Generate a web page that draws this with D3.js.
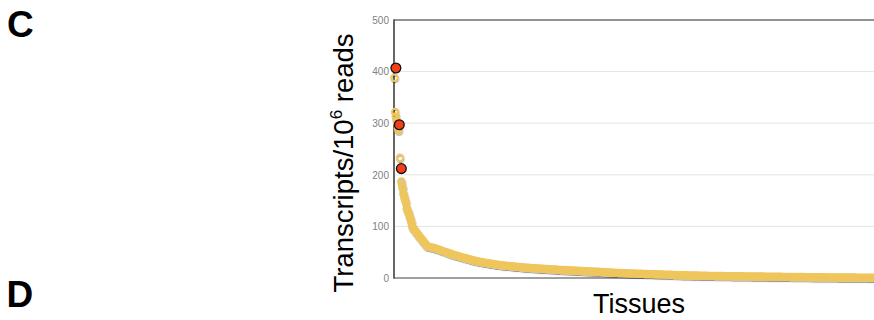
<!DOCTYPE html>
<html><head><meta charset="utf-8">
<script src="https://cdn.jsdelivr.net/npm/d3@7/dist/d3.min.js"></script>
<style>html,body{margin:0;padding:0;background:#fff;overflow:hidden}</style>
</head><body>
<svg id="chart" width="874" height="320"></svg>
<script>
// ---- data ----
const yTicks = [0, 100, 200, 300, 400, 500];
// tissues ranked by expression; head ranks listed explicitly
const headRanks = [1,2,3,4,5,6,7,9,11,12,13,14,15,16,17,18,19,20,21,22,23,24,25,26,27,28,29,30,31,32,33,34,35,36,37,38,39,40,41,42,43,44,45,46,47,48,49,50];
const headTpm = [388,322,313,306,300,290,286,233,187,180,174,164,159,154,150,145,135,131,128,125,120,116,112,107,100,97,95,93.5,92,90,88,86.5,84.5,83,81,79.5,78,76,74.5,73,71,69.5,68,66,64.5,63,61.5,61];
// remaining tissues, sampled every 3rd rank starting at rank 53
const tailStart = 53, tailStep = 3;
const tailTpm = [
 60,59,58,56.8,55.5,54.2,52.6,51.2,49.8,48.4,
 47,45.6,44.5,43.3,42.1,41,39.9,38.8,37.7,36.6,
 35.5,34.5,33.5,32.6,31.7,30.9,30.2,29.5,28.8,28.2,
 27.5,26.9,26.3,25.7,25.2,24.7,24.3,23.9,23.5,23.1,
 22.7,22.3,21.9,21.5,21.1,20.7,20.4,20.1,19.8,19.5,
 19.2,18.9,18.6,18.3,18.0,17.8,17.6,17.4,17.2,17.0,
 16.7,16.4,16.1,15.8,15.6,15.4,15.2,15.0,14.8,14.6,
 14.4,14.2,14.0,13.8,13.6,13.4,13.2,13.0,12.8,12.6,
 12.4,12.2,12.0,11.8,11.5,11.3,11.1,10.9,10.7,10.5,
 10.2,10.0,9.8,9.6,9.4,9.2,9.0,8.9,8.8,8.6,
 8.5,8.4,8.2,8.1,8.0,7.8,7.7,7.6,7.5,7.4,
 7.2,7.1,6.9,6.8,6.6,6.5,6.3,6.2,6.0,5.9,
 5.7,5.6,5.5,5.4,5.3,5.2,5.1,5.0,4.9,4.8,
 4.7,4.6,4.5,4.4,4.4,4.3,4.2,4.2,4.1,4.0,
 4.0,3.9,3.8,3.8,3.7,3.6,3.6,3.5,3.5,3.4,
 3.4,3.3,3.3,3.2,3.2,3.1,3.1,3.0,3.0,2.9,
 2.9,2.8,2.8,2.7,2.6,2.6,2.5,2.5,2.4,2.4,
 2.3,2.3,2.2,2.2,2.1,2.1,2.0,2.0,1.9,1.9,
 1.9,1.8,1.8,1.7,1.7,1.6,1.6,1.5,1.5,1.5,
 1.4,1.4,1.4,1.3,1.3,1.3,1.2,1.2,1.2,1.1,
 1.1,1.1,1.0,1.0,1.0,0.9,0.9,0.9,0.8,0.8,
 0.8,0.7,0.7,0.7,0.6,0.6,0.6,0.5,0.5,0.5
];
// highlighted tissues (red)
const redRanks = [3, 8, 11];
const redTpm = [407, 297, 212];

const panelLabels = ["C", "D"];
const yTitle = "Transcripts/10";
const ySup = "6";
const yTitleEnd = " reads";
const xTitle = "Tissues";

(function draw() {
  const points = headRanks.map((r, i) => ({rank: r, v: headTpm[i]}))
    .concat(tailTpm.map((v, i) => ({rank: tailStart + i * tailStep, v})));
  const reds = redRanks.map((r, i) => ({rank: r, v: redTpm[i]}));

  const svg = d3.select("#chart");
  const pL = 394, pT = 20, pB = 278, pR = 874;
  const x = d3.scaleLinear().domain([1, 710]).range([394.5, 880]);
  const y = d3.scaleLinear().domain([0, 500]).range([pB, pT]);

  const defs = svg.append("defs");
  const f = defs.append("filter").attr("id", "sh").attr("x", "-20%").attr("y", "-20%").attr("width", "140%").attr("height", "140%");
  f.append("feDropShadow").attr("dx", 0.4).attr("dy", 1.1).attr("stdDeviation", 0.7)
    .attr("flood-color", "#000").attr("flood-opacity", 0.4);

  // gridlines
  svg.append("g").selectAll("line").data(yTicks.filter(t => t > 0 && t < 500)).join("line")
    .attr("x1", pL).attr("x2", pR).attr("y1", d => y(d)).attr("y2", d => y(d))
    .attr("stroke", "#e4e4e4").attr("stroke-width", 1);

  // axis
  const yAxis = d3.axisLeft(y).tickValues(yTicks).tickSize(0).tickPadding(5);
  const ga = svg.append("g").attr("transform", `translate(${pL},0)`).call(yAxis);
  ga.select(".domain").remove();
  ga.selectAll("text").attr("font-family", "'Liberation Sans', Arial, sans-serif")
    .attr("font-size", 10).attr("fill", "#808080");

  // frame lines
  svg.append("line").attr("x1", pL).attr("x2", pR).attr("y1", y(500)).attr("y2", y(500))
    .attr("stroke", "#6e6e6e").attr("stroke-width", 1.6);
  svg.append("line").attr("x1", pL).attr("x2", pR).attr("y1", y(0)).attr("y2", y(0))
    .attr("stroke", "#808080").attr("stroke-width", 1.5);
  svg.append("line").attr("x1", pL).attr("x2", pL).attr("y1", y(500) - 0.8).attr("y2", y(0) + 0.8)
    .attr("stroke", "#666").attr("stroke-width", 2);

  // hollow points
  svg.append("g").attr("filter", "url(#sh)").selectAll("circle").data(points).join("circle")
    .attr("cx", d => x(d.rank)).attr("cy", d => y(d.v)).attr("r", 3.2)
    .attr("fill", "none").attr("stroke", "#efc65c").attr("stroke-width", 2);

  // red points
  svg.append("g").selectAll("circle").data(reds).join("circle")
    .attr("cx", d => x(d.rank)).attr("cy", d => y(d.v)).attr("r", 4.9)
    .attr("fill", "#f23f1a").attr("stroke", "#111").attr("stroke-width", 1.3);

  // titles
  const ft = "'Liberation Sans', Arial, Helvetica, sans-serif";
  const yt = svg.append("text").attr("transform", "translate(353,163) rotate(-90)")
    .attr("text-anchor", "middle").attr("font-family", ft).attr("font-size", 27.5).attr("fill", "#000");
  yt.append("tspan").text(yTitle);
  yt.append("tspan").text(ySup).attr("font-size", 17).attr("dy", -11);
  yt.append("tspan").text(yTitleEnd).attr("dy", 11);

  svg.append("text").attr("x", 639).attr("y", 313).attr("text-anchor", "middle")
    .attr("font-family", ft).attr("font-size", 27).attr("fill", "#000").text(xTitle);

  svg.append("text").attr("x", 7).attr("y", 37).attr("font-family", ft).attr("font-weight", "bold")
    .attr("font-size", 37).attr("fill", "#000").text(panelLabels[0]);
  svg.append("text").attr("x", 6.5).attr("y", 306.5).attr("font-family", ft).attr("font-weight", "bold")
    .attr("font-size", 37).attr("fill", "#000").text(panelLabels[1]);
})();
</script>
</body></html>
